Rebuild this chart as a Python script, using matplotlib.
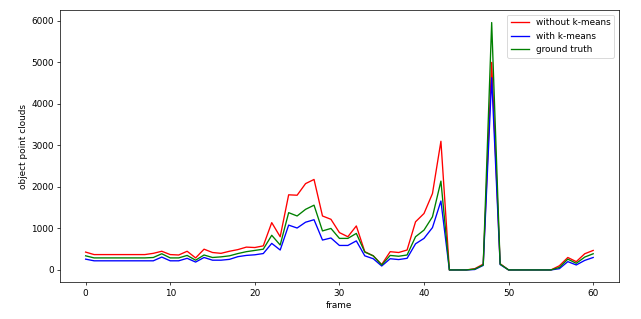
import matplotlib
matplotlib.use("Agg")
import matplotlib.pyplot as plt

# point cloud counts per frame
frames = list(range(61))
without_kmeans = [430, 370, 370, 370, 370, 370, 370, 370, 400, 450,
                  370, 360, 450, 290, 500, 420, 400, 450, 490, 550,
                  540, 580, 1140, 800, 1810, 1800, 2080, 2180, 1300, 1220,
                  900, 800, 1060, 440, 340, 130, 440, 420, 480, 1160,
                  1360, 1840, 3100, 0, 0, 0, 30, 140, 5000, 150,
                  0, 0, 0, 0, 0, 0, 100, 300, 200, 390,
                  470]
with_kmeans = [260, 220, 220, 220, 220, 220, 220, 220, 220, 310,
               220, 220, 280, 190, 300, 235, 235, 255, 320, 350,
               365, 395, 640, 480, 1080, 1010, 1150, 1210, 720, 770,
               590, 590, 700, 340, 270, 95, 270, 250, 280, 630,
               760, 1020, 1660, 0, 0, 0, 10, 110, 4630, 130,
               0, 0, 0, 0, 0, 0, 30, 200, 120, 230,
               300]
ground_truth = [340, 290, 290, 290, 290, 290, 290, 290, 300, 390,
                290, 290, 350, 235, 360, 300, 315, 340, 395, 440,
                470, 500, 835, 600, 1380, 1300, 1460, 1560, 940, 1000,
                760, 760, 880, 430, 340, 120, 350, 330, 360, 800,
                960, 1280, 2140, 0, 0, 0, 20, 120, 5960, 140,
                0, 0, 0, 0, 0, 0, 60, 260, 160, 310,
                390]

fig, ax = plt.subplots(figsize=(10, 4.977), dpi=64.1)
ax.plot(frames, without_kmeans, color="r", label="without k-means")
ax.plot(frames, with_kmeans, color="b", label="with k-means")
ax.plot(frames, ground_truth, color="g", label="ground truth")
ax.set_xlabel("frame")
ax.set_ylabel("object point clouds")
ax.legend(loc="upper right")

fig.subplots_adjust(left=0.094, right=0.965, top=0.968, bottom=0.115)
fig.savefig("out.png", dpi=64.1)
